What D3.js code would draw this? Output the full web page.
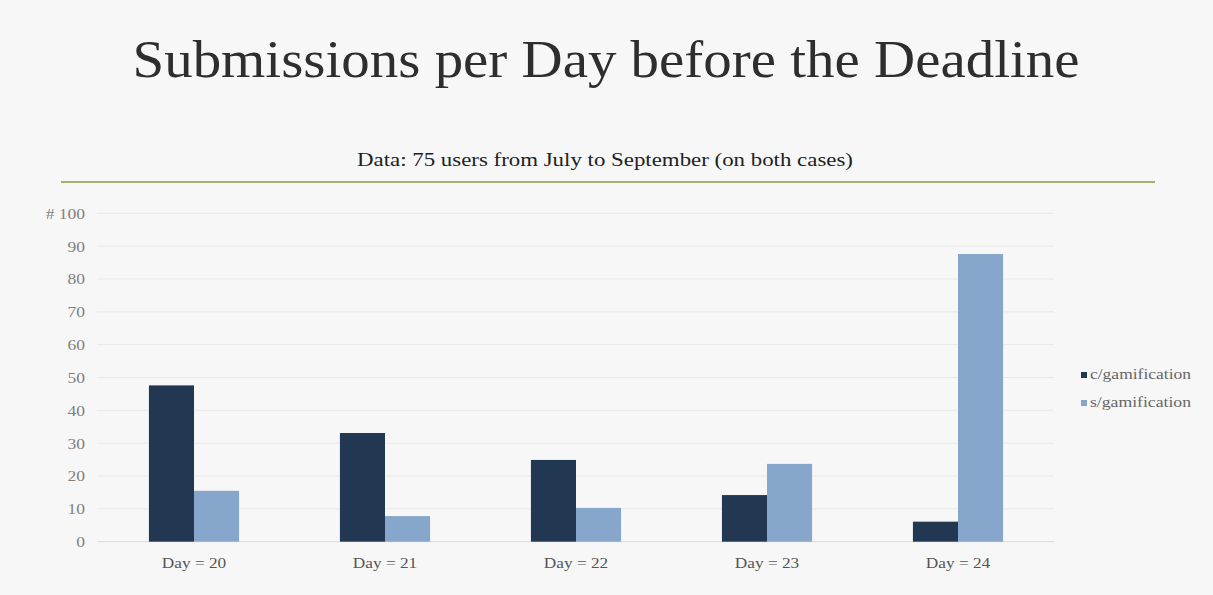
<!DOCTYPE html>
<html><head><meta charset="utf-8">
<script src="https://cdn.jsdelivr.net/npm/d3@7"></script>
<style>body{margin:0;background:#f7f7f7;}svg{display:block;}</style>
</head><body>
<svg id="chart" width="1213" height="595"></svg>
<script>
const categories = ["Day = 20","Day = 21","Day = 22","Day = 23","Day = 24"];
const seriesNames = ["c/gamification","s/gamification"];
const withGamification = [47.6, 33.1, 24.9, 14.2, 6.1];
const withoutGamification = [15.5, 7.8, 10.3, 23.7, 87.6];
const yTicks = [0,10,20,30,40,50,60,70,80,90,100];
const colors = ["#213752","#86a6cc"];

const FONT = "Liberation Serif, serif";
function stretch(sel, k){ sel.each(function(){ const w=this.getComputedTextLength(); d3.select(this).attr("textLength",w*k).attr("lengthAdjust","spacingAndGlyphs"); }); }

const svg = d3.select("#chart");
svg.append("rect").attr("width",1213).attr("height",595).attr("fill","#f7f7f7");

svg.append("text").attr("x",606).attr("y",77).attr("text-anchor","middle")
  .attr("font-family",FONT).attr("font-size",52).attr("fill","#2e2e2e")
  .attr("textLength",947).attr("lengthAdjust","spacingAndGlyphs")
  .text("Submissions per Day before the Deadline");

svg.append("text").attr("x",605).attr("y",166).attr("text-anchor","middle")
  .attr("font-family",FONT).attr("font-size",18).attr("fill","#222")
  .attr("textLength",496).attr("lengthAdjust","spacingAndGlyphs")
  .text("Data: 75 users from July to September (on both cases)");
svg.append("line").attr("x1",61).attr("x2",1155).attr("y1",182).attr("y2",182)
  .attr("stroke","#8a9a3c").attr("stroke-width",1.5);

const x0 = d3.scaleBand().domain(categories).range([98.5,1053.5]).paddingInner(0.528).paddingOuter(0.264);
const x1 = d3.scaleBand().domain(seriesNames).range([0,x0.bandwidth()]);
const y = d3.scaleLinear().domain([0,100]).range([541.7,213.3]);

const grid = svg.append("g");
grid.selectAll("line").data(yTicks).join("line")
  .attr("x1",97).attr("x2",1054).attr("y1",d=>y(d)).attr("y2",d=>y(d))
  .attr("stroke",d=>d===0?"#d9d9d9":"#e8e8e8").attr("stroke-width",1);

const yAxis = svg.append("g").attr("transform","translate(85,0)")
  .call(d3.axisLeft(y).tickValues(yTicks).tickSize(0).tickPadding(0).tickFormat(d=>d===100?"# 100":d));
yAxis.select(".domain").remove();
yAxis.selectAll("text").attr("font-family",FONT).attr("font-size",14).attr("fill","#808080").attr("dy","0.35em");
stretch(yAxis.selectAll("text"),1.25);

const data = categories.map((c,i)=>({cat:c, vals:[withGamification[i],withoutGamification[i]]}));
const groups = svg.append("g").selectAll("g").data(data).join("g")
  .attr("transform",d=>`translate(${x0(d.cat)},0)`);
groups.selectAll("rect").data(d=>d.vals.map((v,j)=>({s:seriesNames[j],v,j}))).join("rect")
  .attr("x",d=>x1(d.s)).attr("width",x1.bandwidth())
  .attr("y",d=>y(d.v)).attr("height",d=>y(0)-y(d.v)).attr("fill",d=>colors[d.j]);

const xAxis = svg.append("g").attr("transform",`translate(0,${y(0)})`)
  .call(d3.axisBottom(x0).tickSize(0).tickPadding(16));
xAxis.select(".domain").remove();
xAxis.selectAll("text").attr("font-family",FONT).attr("font-size",15).attr("fill","#555");
stretch(xAxis.selectAll("text"),1.15);

const legend = svg.append("g");
seriesNames.forEach((s,i)=>{
  const ly = 375 + i*28;
  legend.append("rect").attr("x",1081).attr("y",ly-3).attr("width",6).attr("height",6).attr("fill",colors[i]);
  const t = legend.append("text").attr("x",1090).attr("y",ly+4).attr("font-family",FONT)
    .attr("font-size",14).attr("fill","#666").text(s);
  t.attr("textLength",101).attr("lengthAdjust","spacingAndGlyphs");
});
</script>
</body></html>
